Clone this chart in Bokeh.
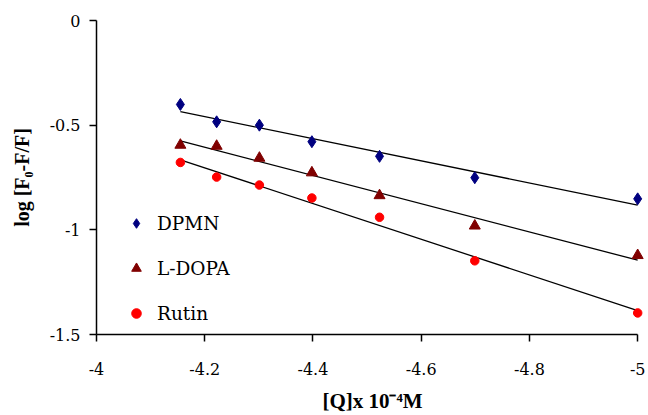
import numpy as np
from bokeh.plotting import figure
from bokeh.models import (Range1d, FixedTicker, CustomJSTickFormatter, Legend,
                          LegendItem)
from bokeh.embed import file_html
from bokeh.resources import INLINE

# ---- data ----
log_q = [-4.155, -4.222, -4.301, -4.398, -4.523, -4.699, -5.0]
dpmn = [-0.401, -0.484, -0.500, -0.579, -0.649, -0.751, -0.852]
ldopa = [-0.595, -0.600, -0.657, -0.727, -0.836, -0.981, -1.122]
rutin = [-0.678, -0.748, -0.786, -0.848, -0.940, -1.148, -1.397]
series_names = ["DPMN", "L-DOPA", "Rutin"]
x_ticks = [-4, -4.2, -4.4, -4.6, -4.8, -5]
y_ticks = [0, -0.5, -1, -1.5]

BOLD_FONT = "Liberation Serif"
TEXT_FONT = "DejaVu Serif"

p = figure(width=648, height=415, output_backend="svg", toolbar_location=None,
           x_range=Range1d(-4, -5.02), y_range=Range1d(-1.5, 0),
           min_border_left=96, min_border_right=0, min_border_top=20,
           min_border_bottom=80)
p.title.visible = False
p.outline_line_color = None
p.xgrid.visible = False
p.ygrid.visible = False
p.background_fill_color = "white"
p.border_fill_color = "white"

fmt = CustomJSTickFormatter(code="return String(Math.round(tick*10)/10);")

for ax in (p.xaxis[0], p.yaxis[0]):
    ax.formatter = fmt
    ax.axis_line_color = "black"
    ax.axis_line_width = 1.5
    ax.major_tick_line_color = "black"
    ax.major_tick_line_width = 1.5
    ax.major_tick_in = 0
    ax.major_tick_out = 7
    ax.minor_tick_line_color = None
    ax.major_label_text_font = TEXT_FONT
    ax.major_label_text_font_size = "16px"
    ax.major_label_text_color = "black"
    ax.axis_label_text_font = BOLD_FONT
    ax.axis_label_text_font_style = "bold"
    ax.axis_label_text_color = "black"

p.xaxis[0].ticker = FixedTicker(ticks=x_ticks)
p.xaxis[0].bounds = (-5, -4)
p.xaxis[0].major_label_standoff = 21
p.xaxis[0].axis_label = "[Q]x 10\u207b\u2074M"
p.xaxis[0].axis_label_text_font_size = "21px"
p.xaxis[0].axis_label_standoff = 11

p.yaxis[0].ticker = FixedTicker(ticks=y_ticks)
p.yaxis[0].major_label_standoff = 9
p.yaxis[0].axis_label = "log [F\u2080-F/F]"
p.yaxis[0].axis_label_text_font_size = "20px"
p.yaxis[0].axis_label_standoff = 14

# trend lines (least squares fits of each series)
xs = np.array(log_q)
for ys in (dpmn, ldopa, rutin):
    k, b = np.polyfit(xs, np.array(ys), 1)
    xl = np.array([xs.max(), xs.min()])
    p.line(xl, k * xl + b, line_color="black", line_width=1.3)

r1 = p.scatter(log_q, dpmn, marker="diamond", size=12, fill_color="#000080",
               line_color="#000080")
r2 = p.scatter(log_q, ldopa, marker="triangle", size=11, fill_color="#800000",
               line_color="#800000")
r3 = p.scatter(log_q, rutin, marker="circle", size=8.5, fill_color="#FF0000",
               line_color="#FF0000")

legend = Legend(items=[LegendItem(label=series_names[0], renderers=[r1]),
                       LegendItem(label=series_names[1], renderers=[r2]),
                       LegendItem(label=series_names[2], renderers=[r3])],
                location=(28, 9), border_line_color=None,
                background_fill_alpha=0, label_text_font=TEXT_FONT,
                label_text_font_size="18.5px", label_text_color="black",
                glyph_width=24, glyph_height=24, label_height=24,
                spacing=21, padding=10, margin=0, label_standoff=9)
p.add_layout(legend)

open("out.html", "w").write(file_html(p, INLINE))
